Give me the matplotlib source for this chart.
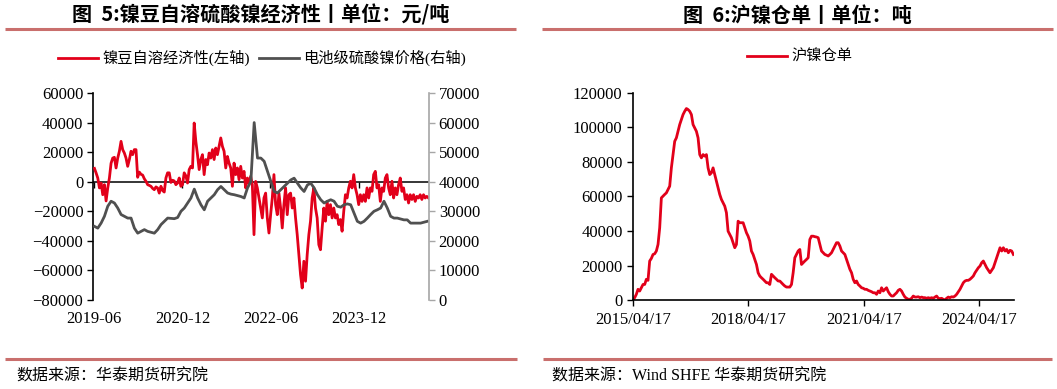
import matplotlib.pyplot as plt
from matplotlib.lines import Line2D
import pandas as pd

plt.rcParams['font.family'] = ['Liberation Serif', 'Noto Sans CJK SC']

# 镍豆自溶经济性 (左轴, 元/吨), roughly every 10 days from 2019-06
margin = [
    9000, 5900, 2500, -4200, -900, -8800, -2000, -13000, -4200, 2500,
    12500, 16000, 16500, 9300, 16000, 20600, 27300, 21700, 19400, 16000,
    10400, 15000, 20600, 18300, 21700, 21700, 3000, 6500, 5000, 4500,
    2000, 300, -2000, -2500, -3100, -4500, -5400, -3500, -4200, -7700,
    -3100, -6000, -7000, 2500, 6000, 6000, -500, 1000, 500, -2000,
    -900, 2500, -3100, -2000, 6000, 4000, -900, 8200, 10400, 9300,
    39700, 27300, 18300, 8200,
    15000, 18300, 4800, 15000, 11500, 19400, 16000, 21700, 15000, 22800,
    18300, 23900, 29600, 23900, 20600, 9300, 17100, 12600, 9300, -3100,
    12600, 4800, 9300, 1400, 10400, 2500, 7000, -4200, 2500, -900,
    3700, -2000, -35800, 200, -4200, -11000, -17800, -24500, -11000, -7700,
    -24500, -34700, -22300, -11000, 4800, -15500, -22300, -7700, -17800, -31300,
    -15500, -4200, -22300, -8800, -7700, -17800, -11000, -24500, -35800, -49300,
    -62900, -71900, -53800, -67300, -49300, -35800, -26700, -11000, -4200, -17800,
    -24500, -42600,
    -46000, -31300, -17800, -26700, -13300, -22300, -15500, -24500, -17800, -24500,
    -22300, -29000, -25600, -33500, -20000, -8800, -11000, -4200, 300, -4200,
    4800, -4200, -8800, -15500, -8800, -13300, -8800, -13300, -4200, -11000,
    -4200, -6500, 4800, 7000, -4200, -2000, -13300, -4200, -6500, 2500,
    4800, -4200, -8800, 300, -11000, -4200, -8800, -2000, 2500, -6500,
    -4200, -12000, -8800, -14400, -8800, -12000, -8800, -13300, -9900, -11000,
    -8800, -12000, -8800, -11000, -9900, -11000,
]

# 电池级硫酸镍价格 (右轴, 元/吨), roughly every 20 days
sulfate_price = [
    24900, 24300, 26000, 28300, 31700, 33400, 32800, 31100, 28900, 28300,
    27700, 27700, 24300, 22600, 23200, 23800, 23200, 22900, 22600, 23800,
    25500, 26600, 27700, 27600, 27500, 27900, 30000, 31100, 32800, 34500,
    37500, 34500,
    32200, 30500, 33400, 34500, 35600, 37300, 38400, 37300, 36200, 35800,
    35600, 35300, 35000, 34500, 37900, 40100, 60000, 48000, 48000, 46900,
    43500, 40100, 36700, 36200, 37300, 38400, 39500, 40600, 41200, 39500,
    37900, 36700, 38900,
    39500, 37900, 35600, 33900, 32800, 33400, 33900, 33400, 31700, 31400,
    32200, 32500, 32200, 29400, 26600, 26000, 26600, 27700, 28900, 30000,
    30500, 31100, 33400, 31100, 28300, 27700, 27700, 27400, 27100, 27100,
    26000, 26000, 26000, 26000, 26300, 26600,
]

# 沪镍仓单 (吨), roughly every 16 days from 2015/04/17
warrants = [
    0, 1350, 3300, 6200, 5200, 7100, 9000, 9000, 12000, 11400,
    22600, 24100, 26400, 26800, 28400, 32200, 41900, 59200, 60200, 61200,
    62100, 64100, 66000, 76600, 84300, 92000, 94000, 97800, 101700, 104600,
    107500, 109400, 111000, 110400, 109400, 107500, 101700, 99800, 97800, 94000,
    84300, 82400, 84300, 83400, 84300, 76600, 72700, 73700, 76600, 72700,
    68900, 65000, 61200, 58300, 56300, 54400, 50600, 39900, 38000, 36100,
    33200, 30300, 32200, 45700, 44800, 44800, 44800, 41900, 39000, 37000,
    34200, 28400, 26400, 23500,
    20600, 15800, 13900, 12900, 12000, 11000, 10000, 10000, 9000, 14900,
    13900, 12900, 12000, 11000, 11000, 10000, 9000, 8100, 7500, 7500,
    7500, 9000, 15800, 24500, 26400, 28400, 29300, 20600, 21600, 22600,
    23500, 24500, 35100, 37000, 37000, 36700, 36500, 36100, 32200, 28400,
    27400, 26400, 26000, 25500, 26400, 27400, 29300, 31300, 33200, 33200,
    31300, 28400, 27400, 26400, 23500, 20600, 17800, 15800, 12000, 10000,
    11000, 9000, 8100, 7100, 6800, 6200, 6200, 5600, 5200, 4800,
    4200, 4200, 3300, 5200,
    4200, 7100, 5200, 6200, 7100, 4800, 3300, 2300, 2300, 3300,
    4200, 5600, 6200, 5200, 3300, 1700, 1000, 400, 400, 1000,
    2300, 1700, 1700, 1900, 1350, 1700, 1350, 1350, 1000, 1350,
    1000, 1350, 1000, 1700, 2300, 1000, 800, 1000, 400, 0,
    1000, 1700, 1350, 1900, 1700, 2300, 3300, 4800, 6200, 8100,
    10000, 11000, 11400, 11400, 12000, 12900, 13900, 15800, 17200, 18700,
    19700, 21600, 22600, 20600, 18700, 17200, 15800, 17200, 18700, 21600,
    24500, 27400, 30300, 28400, 30300, 28400, 29300, 27400, 28800, 28400,
    26400,
]

left_ticks = ['2019-06-01', '2020-12-01', '2022-06-01', '2023-12-01']
left_labels = ['2019-06', '2020-12', '2022-06', '2023-12']
right_ticks = ['2015-04-17', '2018-04-17', '2021-04-17', '2024-04-17']
right_labels = ['2015/04/17', '2018/04/17', '2021/04/17', '2024/04/17']

margin_dates = pd.date_range('2019-06-03', '2025-02-07', periods=len(margin))
sulfate_dates = pd.date_range('2019-06-03', '2025-01-30', periods=len(sulfate_price))
warrant_dates = pd.date_range('2015-04-17', '2025-03-06', periods=len(warrants))

RED = '#E2001A'
GRAY = '#505050'
RULE = '#C96F6D'
TICK_FS = 12

W, H = 1057, 389
fig = plt.figure(figsize=(W / 100, H / 100), dpi=100)


def box(x0, y0, x1, y1):
    return [x0 / W, 1 - y1 / H, (x1 - x0) / W, (y1 - y0) / H]


def rule(x0, x1, y):
    fig.add_artist(Line2D([x0 / W, x1 / W], [1 - y / H] * 2, transform=fig.transFigure,
                          color=RULE, lw=2.2, solid_capstyle='butt'))


# ---- left: 镍豆自溶硫酸镍经济性 ----
ax1 = fig.add_axes(box(93, 93, 429, 300))
ax1r = ax1.twinx()
ax1.axhline(0, color='black', lw=1.1, zorder=1)
l1, = ax1.plot(margin_dates, margin, color=RED, lw=2.0, zorder=3)
l2, = ax1r.plot(sulfate_dates, sulfate_price, color=GRAY, lw=2.0)
ax1.set_ylim(-80000, 60000)
ax1.set_yticks(range(-80000, 60001, 20000))
ax1r.set_ylim(0, 70000)
ax1r.set_yticks(range(0, 70001, 10000))
ax1.set_xlim(pd.Timestamp('2019-05-25'), pd.Timestamp('2025-02-10'))

for sp in ['top', 'right']:
    ax1.spines[sp].set_visible(False)
ax1.spines['bottom'].set_position(('data', 0))
ax1.spines['bottom'].set_visible(False)
for sp in ['top', 'left', 'bottom']:
    ax1r.spines[sp].set_visible(False)
ax1r.spines['right'].set_color('#A6A6A6')
ax1r.spines['right'].set_linewidth(1.2)
ax1.spines['left'].set_linewidth(1.2)

ax1.set_xticks(pd.to_datetime(left_ticks))
ax1.tick_params(axis='x', direction='out', length=4, width=1, labelbottom=False)
ax1.tick_params(axis='y', direction='out', length=4, width=1, labelsize=TICK_FS, pad=3)
ax1r.tick_params(axis='y', direction='out', length=4, width=1, color='#A6A6A6',
                 labelsize=TICK_FS, pad=3)

sec = ax1.secondary_xaxis('bottom')
sec.set_xticks(pd.to_datetime(left_ticks), left_labels)
sec.spines['bottom'].set_visible(False)
sec.tick_params(length=0, labelsize=TICK_FS, pad=8)

# ---- right: 沪镍仓单 ----
ax2 = fig.add_axes(box(633, 93, 1014, 300))
l3, = ax2.plot(warrant_dates, warrants, color=RED, lw=2.0)
ax2.set_ylim(0, 120000)
ax2.set_yticks(range(0, 120001, 20000))
ax2.set_xlim(pd.Timestamp('2015-04-17'), pd.Timestamp('2025-03-12'))
ax2.set_xticks(pd.to_datetime(right_ticks), right_labels)
for sp in ['top', 'right']:
    ax2.spines[sp].set_visible(False)
ax2.spines['left'].set_linewidth(1.2)
ax2.spines['bottom'].set_linewidth(1.2)
ax2.tick_params(axis='both', direction='out', length=4, width=1, labelsize=TICK_FS)
ax2.tick_params(axis='x', pad=5)

# ---- titles, legends, notes ----
title_font = dict(family=['Noto Sans CJK SC'], fontsize=14.5, fontweight='bold',
                  ha='center', va='center')
fig.text(261 / W, 1 - 15 / H, '图  5:镍豆自溶硫酸镍经济性丨单位：元/吨', **title_font)
fig.text(797 / W, 1 - 15 / H, '图  6:沪镍仓单丨单位：吨', **title_font)
rule(5, 516, 28.5)
rule(542, 1053, 28.5)

leg_kw = dict(loc='center', frameon=False, fontsize=11, handlelength=2.6,
              handletextpad=0.3, columnspacing=0.6)
fig.legend([l1, l2], ['镍豆自溶经济性(左轴)', '电池级硫酸镍价格(右轴)'], ncol=2,
           bbox_to_anchor=(262 / W, 1 - 58 / H), **leg_kw)
fig.legend([l3], ['沪镍仓单'], bbox_to_anchor=(800 / W, 1 - 57 / H), **leg_kw)

rule(5, 517, 358.5)
rule(543, 1052, 358.5)
fig.text(16 / W, 1 - 377 / H, '数据来源：华泰期货研究院', fontsize=11.5, va='center')
fig.text(552 / W, 1 - 377 / H, '数据来源：Wind SHFE 华泰期货研究院', fontsize=11.5, va='center')

fig.savefig('out.png', dpi=100)
